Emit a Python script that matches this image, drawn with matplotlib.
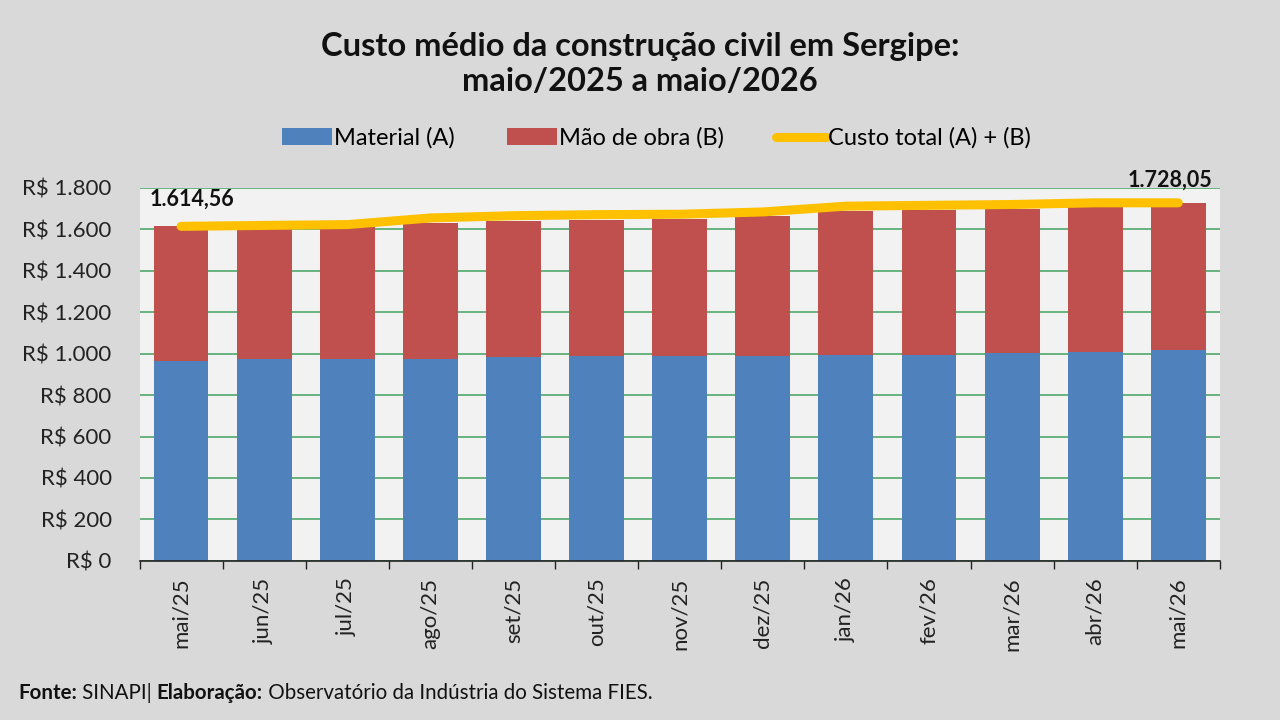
import matplotlib.pyplot as plt
import numpy as np

meses = ["mai/25", "jun/25", "jul/25", "ago/25", "set/25", "out/25", "nov/25",
         "dez/25", "jan/26", "fev/26", "mar/26", "abr/26", "mai/26"]
material = [967, 974, 974, 974, 984, 990, 988, 987, 995, 995, 1001, 1009, 1018]
mao_obra = [647.56, 638, 640, 657, 658, 657, 664, 676, 692, 697, 695, 698, 710.05]
custo_total = [1614.56, 1619, 1623, 1655, 1666, 1671, 1673, 1684, 1712, 1716, 1720, 1728, 1728.05]
yticks = [0, 200, 400, 600, 800, 1000, 1200, 1400, 1600, 1800]

plt.rcParams['font.family'] = ['Lato', 'DejaVu Sans']

fig = plt.figure(figsize=(12.8, 7.2), dpi=100, facecolor="#d9d9d9")
ax = fig.add_axes([0.109, 0.221, 0.844, 0.518])
ax.set_facecolor("#f2f2f2")

x = np.arange(len(meses))
b1 = ax.bar(x, material, width=0.66, color="#4f81bd", label="Material (A)", zorder=2)
b2 = ax.bar(x, mao_obra, width=0.66, bottom=material, color="#c0504d", label="Mão de obra (B)", zorder=2)
l1, = ax.plot(x, custo_total, color="#ffc000", lw=6.5, solid_capstyle="round",
              solid_joinstyle="round", label="Custo total (A) + (B)", zorder=3)

def fmt_br(v):
    s = f"{v:,.2f}"
    return s.replace(",", "X").replace(".", ",").replace("X", ".")

ax.annotate(fmt_br(custo_total[0]), (x[0], custo_total[0]), xytext=(8, 12),
            textcoords="offset points", ha="center", va="bottom",
            fontsize=15.5, fontweight="bold", color="#111111", zorder=4)
ax.annotate(fmt_br(custo_total[-1]), (x[-1], custo_total[-1]), xytext=(-6, 9),
            textcoords="offset points", ha="center", va="bottom",
            fontsize=15.5, fontweight="bold", color="#111111", zorder=4)

ax.set_xlim(-0.5, len(meses) - 0.5)
ax.set_ylim(0, 1800)
ax.set_yticks(yticks)
ax.set_yticklabels([("R$ " + f"{v:,}".replace(",", ".")) for v in yticks], fontsize=16, color="#222222")
ax.yaxis.grid(True, color="#4ea86a", lw=1.2, zorder=1)
ax.tick_params(axis="y", length=0, pad=20)

ax.set_xticks(x)
ax.set_xticklabels(meses, rotation=90, fontsize=16, color="#222222")
ax.set_xticks(np.arange(-0.5, len(meses)), minor=True)
ax.tick_params(axis="x", which="major", length=0, pad=12)
ax.tick_params(axis="x", which="minor", length=6, width=1, color="#222222", direction="out")

for s in ["top", "right", "left"]:
    ax.spines[s].set_visible(False)
ax.spines["bottom"].set_color("#222222")
ax.spines["bottom"].set_linewidth(1.2)

fig.text(0.5, 0.935, "Custo médio da construção civil em Sergipe:", ha="center", va="center",
         fontsize=23.5, fontweight="bold", color="#111111")
fig.text(0.5, 0.887, "maio/2025 a maio/2026", ha="center", va="center",
         fontsize=23.5, fontweight="bold", color="#111111")

fig.legend([b1, b2, l1], ["Material (A)", "Mão de obra (B)", "Custo total (A) + (B)"],
           loc="center", bbox_to_anchor=(0.513, 0.808), ncol=3, frameon=False,
           fontsize=17, handlelength=2.1, handleheight=0.75, columnspacing=2.2, handletextpad=0.1)

# rodape: partes em negrito e normal, lado a lado
partes = [("Fonte:", "bold"), (" SINAPI| ", "normal"), ("Elaboração:", "bold"),
          (" Observatório da Indústria do Sistema FIES.", "normal")]
fig.canvas.draw()
r = fig.canvas.get_renderer()
xpos = 18
for txt, w in partes:
    t = fig.text(xpos / 1280, 0.037, txt, fontweight=w, fontsize=14.8, color="#111111", va="center")
    xpos = t.get_window_extent(renderer=r).x1

fig.savefig("out.png", dpi=100, facecolor=fig.get_facecolor())
